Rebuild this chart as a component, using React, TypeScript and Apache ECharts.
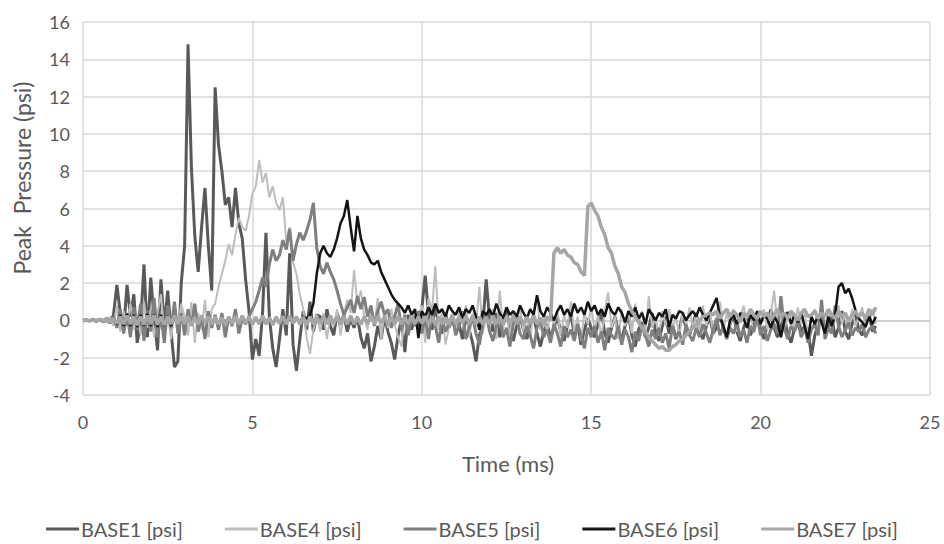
import React, { useEffect, useRef } from "react";
import * as echarts from "echarts";

const DT = 0.1; // ms between samples
const xTicks = { min: 0, max: 25, interval: 5 };
const yTicks = { min: -4, max: 16, interval: 2 };
const seriesNames = ["BASE1 [psi]", "BASE4 [psi]", "BASE5 [psi]", "BASE6 [psi]", "BASE7 [psi]"];

const base1 = [
  0, 0.02, -0.03, 0.04, -0.05, 0.06, -0.08, 0.1, -0.12, 0.3,
  1.9, 0.4, -0.5, 1.9, 0.2, 1.4, -1.2, -0.2, 3.0, -0.9,
  2.3, 0.1, -1.6, 2.2, -0.3, 1.6, -0.6, -2.5, -2.2, 2.0,
  4.0, 14.8, 8.2, 4.5, 2.6, 5.0, 7.1, 4.0, 1.6, 12.5,
  9.4, 8.0, 6.2, 6.6, 5.0, 7.1, 5.2, 4.4, 2.2, 0.5,
  -2.1, -1.0, -1.9, 0.4, 4.7, 0.2, -1.5, -2.5, -1.0, 0.6,
  -0.8, 3.6, -1.3, -2.7, -1.0, 0.5, -0.5, 1.0, -0.6, 0.3,
  0.2, -0.5, 0.6, -0.3, -0.8, 0.4, -0.2, 0.3, -0.6, 0.1,
  -0.4, 0.2, -0.9, -1.5, -0.7, -2.2, -1.4, -0.3, -1.0, 0.2,
  -0.6, -1.2, -2.1, -0.8, 0.1, -1.7, 0.3, -0.5, 0.2, -0.3,
  0.6, 2.4, 0.3, -0.5, 0.8, -0.2, -0.7, 0.4, -0.4, 0.1,
  -0.6, -0.2, -1.0, 0.3, -0.5, -1.2, -2.2, -0.8, -0.3, 2.2,
  0.1, -0.6, 0.4, -0.9, -0.2, 0.5, -0.4, -1.1, -0.3, 0.2,
  -0.5, -1.0, -0.2, 0.3, -0.7, -1.4, -0.6, -0.2, -0.9, -0.4,
  0.2, -0.6, -1.1, -0.3, 0.4, -0.8, -0.2, -1.3, -0.5, 0.1,
  -0.4, -0.9, -0.2, 0.5, -0.7, -1.2, -0.4, 0.2, -0.6, -1.0,
  -0.3, 0.3, -0.8, -1.4, -0.5, -0.1, -0.9, -0.4, 0.4, -0.6,
  -1.1, -0.3, 0.2, -0.7, -0.2, -1.0, -0.5, 0.3, -0.4, -0.8,
  -0.2, 0.4, -0.6, -1.0, -0.3, 0.2, -0.7, -0.4, 0.5, -0.5,
  -0.9, -0.2, 0.3, -0.6, -1.1, -0.4, 0.1, -0.8, -0.3, 0.4,
  -0.5, -1.0, -0.2, 0.6, -0.4, -0.9, -0.3, 0.2, -0.7, -1.2,
  -0.4, 0.1, -0.6, -0.3, -0.5, -1.9, -0.8, -0.2, 0.4, -0.7,
  -0.3, 0.2, -0.9, -0.4, 0.5, -0.6, -1.0, -0.2, 0.3, -0.5,
  -0.8, -0.1, 0.4, -0.6, -0.3,
];

const base4 = [
  0, -0.02, 0.03, -0.04, 0.05, -0.06, 0.1, -0.15, 0.2, -0.3,
  0.8, -0.6, 0.5, -0.3, 0.9, -0.5, 0.3, -0.8, 1.0, -0.4,
  0.6, -0.9, 0.4, 1.4, -0.6, 0.3, -1.0, 0.5, -0.3, 0.9,
  0.2, -0.8, 1.0, -1.2, 0.4, -0.5, 1.1, -0.9, 0.6, 0.9,
  1.8, 2.5, 3.2, 4.1, 3.5, 4.6, 5.5, 5.0, 4.8, 5.6,
  6.8, 7.2, 8.6, 7.4, 7.9, 6.6, 7.2, 6.3, 5.9, 6.6,
  4.2, 5.0, 3.1, 2.5, 1.4, 0.6, -0.9, -1.8, -0.5, 0.3,
  -0.6, 0.4, -1.0, 0.2, -0.3, 0.6, -0.8, 0.3, 1.1, 0.4,
  2.7, 0.9, 1.6, 0.2, -0.5, 0.8, -0.3, 1.2, -1.0, 0.5,
  -0.4, 0.6, -0.2, -0.9, -1.4, 0.3, -0.6, 0.5, -0.3, 0.2,
  0.8, -1.2, 1.2, 0.5, 2.9, -0.5, 0.6, -1.3, -0.4, 0.3,
  -0.6, 0.5, -0.2, 0.8, -0.9, 0.4, -0.3, 1.8, -0.7, 0.2,
  -0.5, 0.6, -1.0, 1.6, -0.4, 0.3, -0.8, 0.5, -0.2, 0.7,
  -0.6, 0.2, -0.9, 0.4, 1.2, -0.5, 0.3, -0.7, 0.6, -0.3,
  0.5, -0.8, 0.3, -0.4, 1.0, -0.6, 0.2, -1.1, 0.4, -0.2,
  0.7, -0.5, 0.3, -0.9, 0.5, 1.5, -0.4, 0.2, -1.0, 0.6,
  -0.3, 0.4, -0.7, 0.9, -0.2, 0.5, -0.6, 1.3, -0.4, 0.2,
  -0.8, 0.5, -0.3, 0.6, -0.5, 0.2, -0.9, 0.4, -0.2, 0.7,
  -0.4, 0.3, -0.6, 0.8, -0.3, 0.5, -0.7, 0.2, 1.0, -0.5,
  0.4, -0.3, 0.6, -0.6, 0.2, 0.8, -0.4, 0.3, -0.7, 0.5,
  -0.2, 0.6, -0.5, 0.3, 1.6, -0.3, 0.4, -0.6, 0.2, 0.5,
  -0.4, 0.7, -0.2, 0.4, -0.8, 0.3, 0.6, -0.5, 0.2, -0.3,
  0.5, -0.6, 0.3, 0.8, -0.2, 0.4, -0.5, 0.6, -0.3, 0.2,
  0.7, -0.4, 0.3, 0.6, -0.2,
];

const base5 = [
  0, 0.03, -0.02, 0.05, -0.04, 0.07, -0.1, 0.12, -0.15, 0.2,
  -0.4, 0.6, -0.7, 0.4, -0.9, 0.7, -0.5, 0.9, -1.1, 0.5,
  -0.6, 1.2, -0.9, 0.3, -1.2, 0.8, -0.4, 1.0, -0.7, 0.4,
  -0.8, 0.6, -0.3, 0.9, -0.6, 0.2, -1.0, 0.5, -0.4, 0.3,
  -0.5, 0.4, -0.9, 0.2, -0.3, 0.6, -0.7, 0.1, -0.2, 0.2,
  0.6, 1.0, 1.6, 2.3, 1.8, 3.0, 3.8, 3.2, 3.5, 4.3,
  3.8, 4.9, 3.2, 4.1, 4.7, 4.3, 4.8, 5.4, 6.3, 3.9,
  2.9, 2.5, 3.1, 2.6, 2.2, 1.6, 0.9, 0.3, 0.7, 1.1,
  0.4, 1.3, 0.6, 1.25, 0.2, 0.8, -0.3, 0.5, 1.0, 0.3,
  0.6, -0.4, 0.2, 0.9, -0.5, 0.3, -0.8, 0.1, -0.3, 0.5,
  -0.7, 0.2, -1.0, 0.4, -0.3, -1.2, 0.1, -0.6, -0.2, 0.3,
  -0.8, -0.3, 0.5, -1.0, -0.4, 0.2, -0.7, -1.3, -0.2, 0.4,
  -0.6, -1.1, -0.3, 0.3, -0.9, -0.4, -1.4, -0.2, 0.2, -0.7,
  -1.0, -0.3, -0.8, -1.5, -0.4, 0.1, -0.9, -0.5, -1.2, -0.2,
  -0.7, -1.4, -0.3, -0.9, -0.5, -1.1, -0.2, -0.8, -1.5, -0.4,
  -0.9, -0.3, -1.2, -0.6, -1.6, -0.4, -0.8, -1.0, -0.3, -1.3,
  -0.5, -0.9, -1.7, -0.6, -1.1, -0.3, -0.8, -1.4, -0.5, -1.0,
  -0.4, -1.2, -0.7, -1.5, -0.3, -0.9, -0.6, -1.3, -0.2, -0.8,
  -1.1, -0.4, -0.9, -0.2, -0.7, -1.2, -0.5, 0.1, -0.8, -0.3,
  -1.0, -0.4, -0.7, -0.1, -0.9, -0.5, -1.2, -0.3, -0.6, 0.2,
  -0.8, -0.3, -1.1, -0.5, -0.2, -0.7, 1.3, -0.4, -1.0, -0.3,
  -0.6, -0.1, -0.9, -0.4, -1.2, -0.5, -0.2, -0.8, 1.1, -1.0,
  -0.4, -0.7, 0.8, -0.3, -0.9, -0.5, -0.1, -0.8, -0.4, -0.6,
  -0.2, -0.9, -0.5, -0.3, -0.7,
];

const base6 = [
  0, 0.02, -0.02, 0.03, -0.04, 0.05, -0.06, 0.08, -0.1, 0.15,
  -0.2, 0.3, -0.3, 0.35, -0.3, 0.3, -0.35, 0.3, -0.3, 0.35,
  -0.3, 0.3, -0.35, 0.3, -0.3, 0.25, -0.3, 0.2, -0.2, 0.15,
  -0.15, 0.1, -0.12, 0.1, -0.1, 0.08, -0.08, 0.06, -0.1, 0.1,
  -0.1, 0.12, -0.1, 0.1, -0.12, 0.1, -0.1, 0.12, -0.1, 0.1,
  -0.12, 0.1, -0.1, 0.15, -0.1, 0.12, -0.15, 0.1, -0.12, 0.15,
  -0.1, 0.12, -0.15, 0.1, -0.1, 0.2, 0.1, 0.3, 0.9, 2.5,
  3.6, 4.0, 3.6, 3.4, 3.8, 4.4, 5.2, 5.6, 6.45, 5.0,
  3.7, 5.6, 4.4, 3.8, 3.5, 3.1, 3.0, 3.2, 2.6, 2.2,
  1.8, 1.4, 1.1, 0.9, 0.7, 0.4, 0.8, 0.3, 0.6, -0.95,
  0.5, 0.2, 0.7, 0.3, 0.9, 0.4, 0.6, 0.2, 0.8, 0.5,
  0.3, 0.7, 0.1, 0.6, 0.4, 0.8, 0.2, -0.5, 0.5, 0.3,
  0.6, 0.2, 0.9, 0.4, 0.1, 0.7, 0.3, 0.5, 0.2, 0.8,
  0.4, 0.1, 0.6, 0.3, 1.35, 0.5, 0.2, 0.7, 0.4, 0.0,
  0.5, 0.8, 0.3, 0.6, 0.2, 0.9, 0.4, 0.7, 0.3, 1.0,
  0.5, 0.8, 0.3, 0.6, 0.2, 0.9, 0.5, 0.3, 0.7, 0.4,
  -0.1, 0.5, 0.2, 0.7, 0.1, 0.4, -0.2, 0.6, 0.3, 0.0,
  0.4, 0.2, 0.6, -0.35, 0.3, 0.1, 0.5, 0.4, 0.0, 0.3,
  0.5, 0.2, 0.7, 0.3, 0.0, 0.4, 0.8, 1.2, 0.2, -0.3,
  -0.9, 0.0, 0.3, -0.2, 0.4, 0.1, -0.4, 0.3, 0.0, 0.5,
  -0.2, 0.3, 0.1, -0.4, 0.2, -0.1, -0.9, 0.0, 0.45, -0.2,
  0.3, -0.1, 0.4, -0.3, -1.0, 0.2, -0.2, 0.3, -0.1, -0.7,
  0.2, -0.3, 0.3, 1.8, 2.0, 1.45, 1.7, 1.2, 0.55, 0.1,
  -0.1, -0.35, 0.2, -0.2, 0.2,
];

const base7 = [
  0, 0.01, -0.01, 0.02, -0.02, 0.04, -0.05, 0.08, -0.1, 0.12,
  -0.15, 0.2, -0.2, 0.25, -0.2, 0.22, -0.25, 0.2, -0.22, 0.25,
  -0.2, 0.25, -0.22, 0.2, -0.25, 0.22, -0.2, 0.25, -0.2, 0.22,
  -0.18, 0.2, -0.25, 0.15, -0.2, 0.25, -0.15, 0.2, -0.22, 0.18,
  -0.2, 0.15, -0.25, 0.2, -0.18, 0.22, -0.2, 0.25, -0.15, 0.2,
  -0.22, 0.18, -0.2, 0.25, -0.2, 0.15, -0.25, 0.2, -0.18, 0.22,
  -0.2, 0.25, -0.15, 0.2, -0.22, 0.18, -0.25, 0.2, -0.2, 0.15,
  -0.18, 0.22, -0.2, 0.25, -0.15, 0.2, -0.22, 0.18, -0.2, 0.25,
  -0.2, 0.15, -0.22, 0.2, -0.18, 0.25, -0.2, 0.22, -0.15, 0.2,
  -0.25, 0.18, -0.2, 0.22, -0.2, 0.15, -0.18, 0.25, -0.2, 0.2,
  -0.15, 0.22, -0.2, 0.18, -0.25, 0.2, -0.2, 0.15, -0.22, 0.25,
  -0.2, 0.2, -0.15, 0.22, -0.18, 0.25, -0.2, 0.2, -0.22, 0.15,
  -0.2, 0.25, -0.18, 0.2, -0.22, 0.18, -0.2, 0.25, -0.15, 0.2,
  -0.22, 0.18, -0.2, 0.25, -0.2, 0.15, -0.25, 0.2, 0.0, 3.6,
  3.9, 3.6, 3.8, 3.5, 3.4, 3.1, 3.0, 2.6, 2.4, 6.1,
  6.3, 5.9, 5.6, 5.0, 4.6, 3.9, 3.6, 2.9, 2.5, 1.8,
  1.5, 0.9, 0.5, 0.2, -0.1, -0.4, -0.6, -0.9, -1.1, -1.3,
  -1.5, -1.4, -1.6, -1.6, -1.4, -1.3, -1.1, -1.0, -0.8, -0.6,
  -0.4, -0.2, 0.0, 0.2, 0.3, 0.4, 0.3, 0.5, 0.1, 0.4,
  0.6, 0.2, 0.5, 0.3, -0.1, 0.4, 0.2, 0.6, 0.3, 0.1,
  0.5, 0.2, 0.4, 0.0, 0.3, 0.6, 0.2, 0.4, 0.1, 0.5,
  0.3, 0.0, 0.4, 0.6, 0.2, 0.3, 0.5, 0.1, 0.4, 0.2,
  0.6, 0.3, 0.1, 0.5, 0.2, 0.4, 0.0, 0.3, 0.5, 0.2,
  0.4, 0.1, 0.6, 0.3, 0.7,
];

const seriesValues = [base1, base4, base5, base6, base7];
const seriesColors = ["#595959", "#bdbdbd", "#7f7f7f", "#141414", "#a6a6a6"];
const seriesWidths = [3, 2, 3, 2.5, 3.5];

const FONT = "Lato, 'Open Sans', sans-serif";
const TEXT = "#595959";
const GRID = "#d9d9d9";

export default function App() {
  const ref = useRef<HTMLDivElement>(null);
  useEffect(() => {
    if (!ref.current) return;
    const chart = echarts.init(ref.current, null, { renderer: "svg" });
    const yLineColors: string[] = [];
    for (let v = yTicks.min; v <= yTicks.max; v += yTicks.interval) {
      yLineColors.push(v === 0 ? "#bfbfbf" : GRID);
    }
    chart.setOption({
      animation: false,
      backgroundColor: "#ffffff",
      grid: { left: 83, right: 14, top: 22, bottom: 149, containLabel: false },
      xAxis: {
        type: "value",
        min: xTicks.min,
        max: xTicks.max,
        interval: xTicks.interval,
        axisLine: { show: false, onZero: false },
        axisTick: { show: false },
        splitLine: { show: true, lineStyle: { color: GRID, width: 1.5 } },
        axisLabel: { color: TEXT, fontFamily: FONT, fontSize: 18, margin: 18 },
      },
      yAxis: {
        type: "value",
        min: yTicks.min,
        max: yTicks.max,
        interval: yTicks.interval,
        axisLine: { show: false },
        axisTick: { show: false },
        splitLine: { show: true, lineStyle: { color: yLineColors, width: 1.5 } },
        axisLabel: { color: TEXT, fontFamily: FONT, fontSize: 18, margin: 13 },
      },
      legend: {
        data: seriesNames.map((name, k) => ({
          name,
          icon: "rect",
          itemStyle: { color: seriesColors[k] },
        })),
        top: 514,
        left: "center",
        itemWidth: 33,
        itemHeight: 3,
        itemGap: 42,
        textStyle: { color: TEXT, fontFamily: FONT, fontSize: 20, padding: [0, 0, 0, -3] },
      },
      graphic: [
        {
          type: "text",
          x: 22,
          y: 178,
          rotation: Math.PI / 2,
          style: {
            text: "Peak  Pressure (psi)",
            fill: TEXT,
            font: `23px ${FONT}`,
            textAlign: "center",
            textVerticalAlign: "middle",
          },
        },
        {
          type: "text",
          x: 508,
          y: 463,
          style: {
            text: "Time (ms)",
            fill: TEXT,
            font: `22px ${FONT}`,
            textAlign: "center",
            textVerticalAlign: "middle",
          },
        },
      ],
      series: seriesNames.map((name, k) => ({
        name,
        type: "line",
        symbol: "none",
        showSymbol: false,
        data: seriesValues[k].map((v, i) => [Math.round(i * DT * 10) / 10, v]),
        lineStyle: { color: seriesColors[k], width: seriesWidths[k] },
        itemStyle: { color: seriesColors[k] },
      })),
    });
    return () => chart.dispose();
  }, []);
  return (
    <div
      ref={ref}
      style={{ position: "fixed", left: 0, top: 0, width: 944, height: 544 }}
    />
  );
}
